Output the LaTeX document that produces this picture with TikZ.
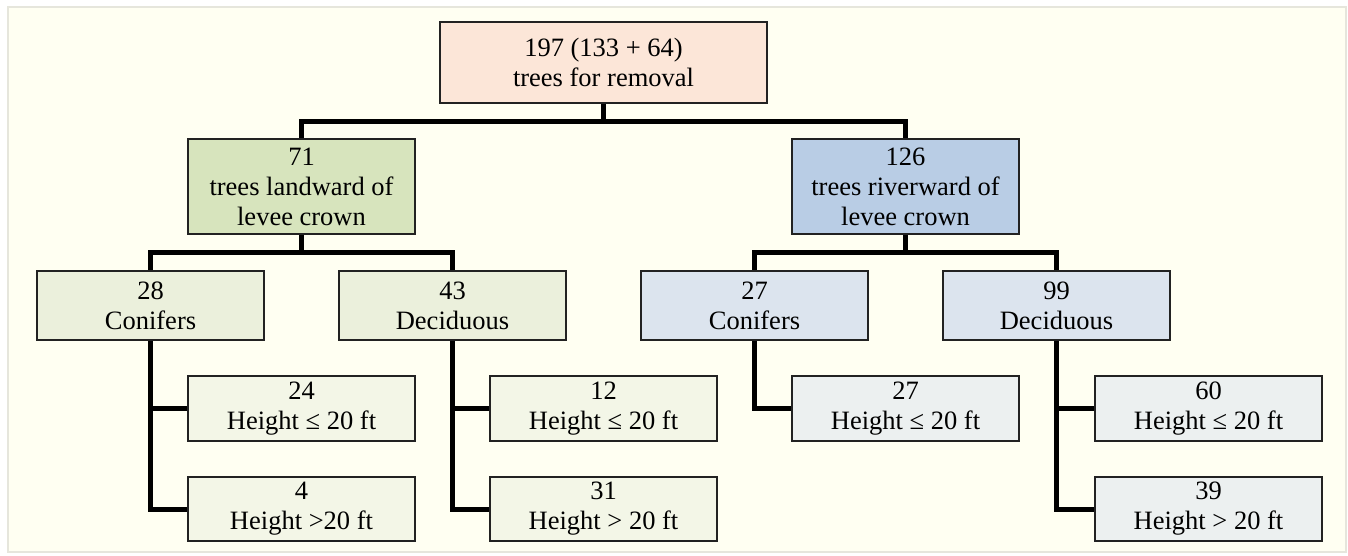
\documentclass[tikz,border=0pt]{standalone}
\usepackage{fontspec}
\setmainfont{Liberation Serif}
\definecolor{bgfill}{HTML}{FFFFF2}
\definecolor{bgline}{HTML}{E6E6DC}
\definecolor{cTop}{HTML}{FCE6D8}
\definecolor{cLand}{HTML}{D7E4BD}
\definecolor{cRiver}{HTML}{B9CDE5}
\definecolor{cLandB}{HTML}{EBF0DC}
\definecolor{cRiverB}{HTML}{DCE4EE}
\definecolor{cLandC}{HTML}{F3F6E7}
\definecolor{cRiverC}{HTML}{ECF0F0}
\definecolor{boxline}{HTML}{222222}
\tikzset{
  box/.style={draw=boxline, line width=1.5pt, align=center, inner sep=0pt,
    font=\fontsize{26.5}{30}\selectfont, text=black},
  conn/.style={line width=5pt, draw=black},
}
\begin{document}
\begin{tikzpicture}[x=1pt,y=-1pt]
\useasboundingbox (0,0) rectangle (1348,556);
\fill[white] (0,0) rectangle (1348,556);
\draw[fill=bgfill, draw=bgline, line width=1.5pt] (8,7) rectangle (1346,552);

\node[box, fill=cTop, minimum width=327pt, minimum height=81pt] (top) at (603.5,62.5) {197 (133 + 64)\\trees for removal};

\node[box, fill=cLand, minimum width=227pt, minimum height=95pt] (land) at (301.5,186.5) {71\\trees landward of\\levee crown};
\node[box, fill=cRiver, minimum width=227pt, minimum height=95pt] (river) at (905.5,186.5) {126\\trees riverward of\\levee crown};

\node[box, fill=cLandB, minimum width=227pt, minimum height=69pt] (lcon) at (150.5,305.5) {28\\Conifers};
\node[box, fill=cLandB, minimum width=227pt, minimum height=69pt] (ldec) at (452.5,305.5) {43\\Deciduous};
\node[box, fill=cRiverB, minimum width=227pt, minimum height=69pt] (rcon) at (754.5,305.5) {27\\Conifers};
\node[box, fill=cRiverB, minimum width=227pt, minimum height=69pt] (rdec) at (1056.5,305.5) {99\\Deciduous};

\node[box, fill=cLandC, minimum width=227pt, minimum height=65pt] (lconA) at (301.5,408.5) {24\\Height ≤ 20 ft};
\node[box, fill=cLandC, minimum width=227pt, minimum height=64pt] (lconB) at (301.5,509) {4\\Height >20 ft};
\node[box, fill=cLandC, minimum width=227pt, minimum height=65pt] (ldecA) at (603.5,408.5) {12\\Height ≤ 20 ft};
\node[box, fill=cLandC, minimum width=227pt, minimum height=64pt] (ldecB) at (603.5,509) {31\\Height > 20 ft};
\node[box, fill=cRiverC, minimum width=227pt, minimum height=65pt] (rconA) at (905.5,408.5) {27\\Height ≤ 20 ft};
\node[box, fill=cRiverC, minimum width=227pt, minimum height=65pt] (rdecA) at (1208.5,408.5) {60\\Height ≤ 20 ft};
\node[box, fill=cRiverC, minimum width=227pt, minimum height=64pt] (rdecB) at (1208.5,509) {39\\Height > 20 ft};

% level 1 connectors
\draw[conn] (top.south) -- ++(0,18) -| (land.north);
\draw[conn] (top.south) -- ++(0,18) -| (river.north);
% level 2 connectors
\draw[conn] (land.south) -- ++(0,18) -| (lcon.north);
\draw[conn] (land.south) -- ++(0,18) -| (ldec.north);
\draw[conn] (river.south) -- ++(0,18) -| (rcon.north);
\draw[conn] (river.south) -- ++(0,18) -| (rdec.north);
% level 3 connectors
\draw[conn] (lcon.south) |- (lconB.west);
\draw[conn] (lcon.south |- lconA.west) -- (lconA.west);
\draw[conn] (ldec.south) |- (ldecB.west);
\draw[conn] (ldec.south |- ldecA.west) -- (ldecA.west);
\draw[conn] (rcon.south) |- (rconA.west);
\draw[conn] (rdec.south) |- (rdecB.west);
\draw[conn] (rdec.south |- rdecA.west) -- (rdecA.west);
\end{tikzpicture}
\end{document}
